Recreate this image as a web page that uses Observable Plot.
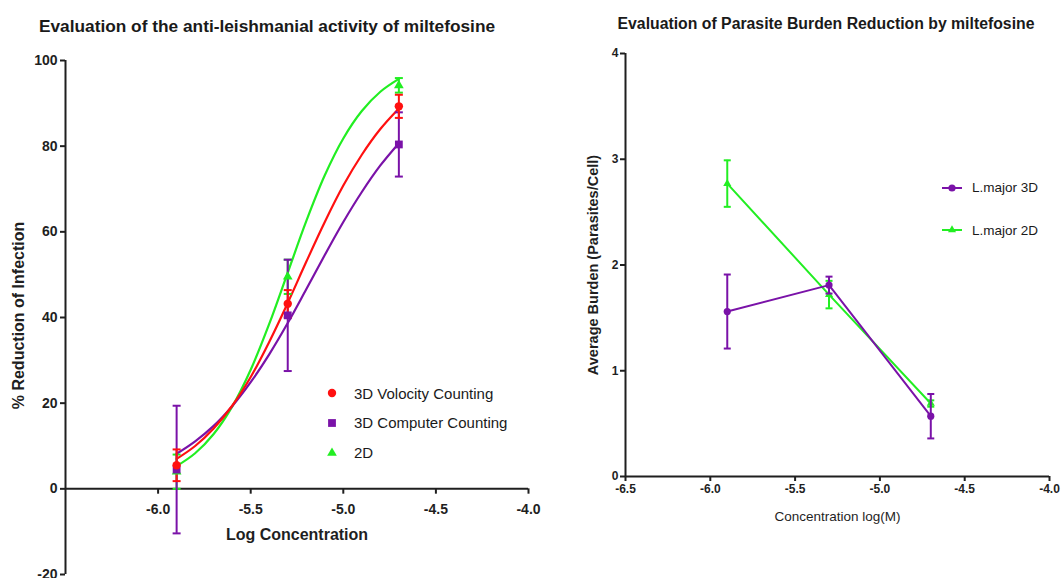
<!DOCTYPE html>
<html>
<head>
<meta charset="utf-8">
<script src="https://cdn.jsdelivr.net/npm/d3@7"></script>
<script src="https://cdn.jsdelivr.net/npm/@observablehq/plot@0.6"></script>
<style>
  html, body { margin: 0; padding: 0; background: #fff; }
  #wrap { position: relative; width: 1062px; height: 578px; overflow: hidden; font-family: "Liberation Sans", Arial, Helvetica, sans-serif; color: #1a1a1a; }
  .abs { position: absolute; }
  .title { font-weight: bold; white-space: nowrap; transform: translateX(-50%); line-height: 1.2; }
  .leg { position: absolute; white-space: nowrap; display: flex; align-items: center; }
  .leg svg { display: block; }
</style>
</head>
<body>
<div id="wrap"></div>
<script>
// ---------- data: left panel ----------
const xConc = [-5.9, -5.3, -4.7];
const leftSeries = ["3D Volocity Counting", "3D Computer Counting", "2D"];
const volocityMean = [5.5, 43.2, 89.3];
const volocitySD   = [3.7, 3.2, 2.7];
const computerMean = [4.5, 40.5, 80.4];
const computerSD   = [14.9, 13.0, 7.5];
const twoDMean     = [4.0, 49.5, 94.2];
const twoDSD       = [4.0, 4.0, 1.7];
// fitted curves
const curveX        = [-5.9, -5.8, -5.7, -5.6, -5.5, -5.4, -5.3, -5.2, -5.1, -5.0, -4.9, -4.8, -4.7];
const volocityCurve = [7.0, 10.0, 14.1, 19.4, 26.1, 34.3, 43.4, 53.0, 62.3, 70.8, 78.0, 84.0, 88.8];
const computerCurve = [8.2, 11.1, 14.7, 19.3, 24.9, 31.4, 38.7, 46.6, 54.6, 62.3, 69.3, 75.5, 80.7];
const twoDCurve     = [5.3, 8.3, 12.8, 19.2, 27.8, 38.5, 50.5, 62.5, 73.2, 81.8, 88.2, 92.7, 95.7];
const leftXTicks = [-6.0, -5.5, -5.0, -4.5, -4.0];
const leftYTicks = [-20, 0, 20, 40, 60, 80, 100];

// ---------- data: right panel ----------
const rightSeries = ["L.major 3D", "L.major 2D"];
const burden3DMean = [1.56, 1.81, 0.57];
const burden3DSD   = [0.35, 0.08, 0.21];
const burden2DMean = [2.77, 1.72, 0.69];
const burden2DSD   = [0.22, 0.13, 0.03];
const rightXTicks = [-6.5, -6.0, -5.5, -5.0, -4.5, -4.0];
const rightYTicks = [0, 1, 2, 3, 4];

// ---------- colours ----------
const RED = "#ff1010", PURPLE = "#7a12a8", GREEN = "#22ee22", AXIS = "#1f1f1f";
const FONT = "Liberation Sans, Arial, Helvetica, sans-serif";

// ---------- build tables ----------
const leftColors = [RED, PURPLE, GREEN];
const leftMeans = [volocityMean, computerMean, twoDMean];
const leftSDs = [volocitySD, computerSD, twoDSD];
const leftCurves = [volocityCurve, computerCurve, twoDCurve];
const leftSymbols = ["circle", "square", "triangle"];
const leftPts = [];
leftSeries.forEach((s, i) => xConc.forEach((x, j) => leftPts.push({
  series: s, x, y: leftMeans[i][j], lo: leftMeans[i][j] - leftSDs[i][j], hi: leftMeans[i][j] + leftSDs[i][j]
})));
const leftLines = [];
leftSeries.forEach((s, i) => curveX.forEach((x, j) => leftLines.push({series: s, x, y: leftCurves[i][j]})));

const rightColors = [PURPLE, GREEN];
const rightMeans = [burden3DMean, burden2DMean];
const rightSDs = [burden3DSD, burden2DSD];
const rightPts = [];
rightSeries.forEach((s, i) => xConc.forEach((x, j) => rightPts.push({
  series: s, x, y: rightMeans[i][j], lo: rightMeans[i][j] - rightSDs[i][j], hi: rightMeans[i][j] + rightSDs[i][j]
})));

const cap = (w) => ({draw(ctx) { ctx.moveTo(-w, 0); ctx.lineTo(w, 0); }});

// ---------- left chart ----------
const leftOrder = [2, 1, 0]; // draw green, purple, red (red on top)
const leftMarks = [];
leftMarks.push(Plot.ruleX([-6.5], {y1: -20, y2: 100, stroke: AXIS, strokeWidth: 2}));
leftMarks.push(Plot.axisY({ticks: leftYTicks, tickSize: 5, tickPadding: 3, strokeWidth: 2, stroke: AXIS,
  tickFormat: d => String(d), fontWeight: "bold", fontSize: 14, fill: AXIS, label: null}));
leftMarks.push(Plot.ruleY([0], {x1: -6.5, x2: -4.0, stroke: AXIS, strokeWidth: 2}));
leftMarks.push(Plot.ruleX(leftXTicks, {x: d => d, y1: 0, y2: -1.25, stroke: AXIS, strokeWidth: 2}));
leftMarks.push(Plot.text(leftXTicks, {x: d => d, y: 0, dy: 21, text: d => d.toFixed(1), fontWeight: "bold", fontSize: 14, fill: AXIS}));
leftMarks.push(Plot.text(["% Reduction of Infection"], {frameAnchor: "left", textAnchor: "middle", lineAnchor: "middle", rotate: -90, dx: -47, dy: -2, fontWeight: "bold", fontSize: 16, fill: AXIS}));
leftMarks.push(Plot.text(["Log Concentration"], {frameAnchor: "bottom", textAnchor: "middle", lineAnchor: "middle", dy: -40, fontWeight: "bold", fontSize: 16, fill: AXIS}));
for (const i of leftOrder) {
  const s = leftSeries[i];
  leftMarks.push(Plot.line(leftLines.filter(d => d.series === s), {x: "x", y: "y", stroke: leftColors[i], strokeWidth: 2.2, curve: "catmull-rom"}));
}
for (const i of leftOrder) {
  const s = leftSeries[i];
  const pts = leftPts.filter(d => d.series === s);
  leftMarks.push(Plot.ruleX(pts, {x: "x", y1: "lo", y2: "hi", stroke: leftColors[i], strokeWidth: 2}));
  leftMarks.push(Plot.dot(pts, {x: "x", y: "lo", symbol: cap(4), stroke: leftColors[i], strokeWidth: 2, fill: "none"}));
  leftMarks.push(Plot.dot(pts, {x: "x", y: "hi", symbol: cap(4), stroke: leftColors[i], strokeWidth: 2, fill: "none"}));
}
for (const i of leftOrder) {
  const s = leftSeries[i];
  const pts = leftPts.filter(d => d.series === s);
  leftMarks.push(Plot.dot(pts, {x: "x", y: "y", symbol: leftSymbols[i], r: i === 1 ? 4.4 : (i === 2 ? 3.6 : 4.2), fill: leftColors[i], stroke: "none"}));
}

const left = Plot.plot({
  width: 545, height: 578, marginLeft: 65, marginRight: 17, marginTop: 60, marginBottom: 4,
  x: {domain: [-6.5, -4.0], axis: null},
  y: {domain: [-20, 100], axis: null},
  style: {fontFamily: FONT, overflow: "visible", background: "transparent"},
  marks: leftMarks
});

// ---------- right chart ----------
const rightMarks = [];
rightMarks.push(Plot.ruleX([-6.5], {y1: 0, y2: 4, stroke: AXIS, strokeWidth: 2}));
rightMarks.push(Plot.ruleY([0], {x1: -6.5, x2: -4.0, stroke: AXIS, strokeWidth: 2}));
rightMarks.push(Plot.axisY({ticks: rightYTicks, tickSize: 5, tickPadding: 2, strokeWidth: 2, stroke: AXIS,
  tickFormat: d => String(d), fontWeight: "bold", fontSize: 12, fill: AXIS, label: null}));
rightMarks.push(Plot.axisX({ticks: rightXTicks, tickSize: 5, tickPadding: 3, strokeWidth: 2, stroke: AXIS,
  tickFormat: d => d.toFixed(1), fontWeight: "bold", fontSize: 12, fill: AXIS, label: null}));
rightMarks.push(Plot.text(["Average Burden (Parasites/Cell)"], {frameAnchor: "left", textAnchor: "middle", lineAnchor: "middle", rotate: -90, dx: -32, fontWeight: "bold", fontSize: 14.5, fill: AXIS}));
rightMarks.push(Plot.text(["Concentration log(M)"], {frameAnchor: "bottom", textAnchor: "middle", lineAnchor: "middle", dy: 40, fontSize: 13.5, fill: AXIS}));
const rightOrder = [1, 0];
for (const i of rightOrder) {
  const s = rightSeries[i];
  const pts = rightPts.filter(d => d.series === s);
  rightMarks.push(Plot.line(pts, {x: "x", y: "y", stroke: rightColors[i], strokeWidth: 2}));
  rightMarks.push(Plot.ruleX(pts, {x: "x", y1: "lo", y2: "hi", stroke: rightColors[i], strokeWidth: 2}));
  rightMarks.push(Plot.dot(pts, {x: "x", y: "lo", symbol: cap(3.5), stroke: rightColors[i], strokeWidth: 2, fill: "none"}));
  rightMarks.push(Plot.dot(pts, {x: "x", y: "hi", symbol: cap(3.5), stroke: rightColors[i], strokeWidth: 2, fill: "none"}));
  rightMarks.push(Plot.dot(pts, {x: "x", y: "y", symbol: i === 0 ? "circle" : "triangle", r: i === 0 ? 3.6 : 3.0, fill: rightColors[i], stroke: "none"}));
}
const right = Plot.plot({
  width: 502, height: 578, marginLeft: 65, marginRight: 13, marginTop: 53, marginBottom: 102,
  x: {domain: [-6.5, -4.0], axis: null},
  y: {domain: [0, 4], axis: null},
  style: {fontFamily: FONT, overflow: "visible", background: "transparent"},
  marks: rightMarks
});

// ---------- layout ----------
const wrap = document.getElementById("wrap");
left.style.position = "absolute"; left.style.left = "0px"; left.style.top = "0px";
right.style.position = "absolute"; right.style.left = "560px"; right.style.top = "0px";
wrap.appendChild(left);
wrap.appendChild(right);

function addTitle(text, cx, top, size) {
  const d = document.createElement("div");
  d.className = "abs title";
  d.textContent = text;
  d.style.left = cx + "px"; d.style.top = top + "px"; d.style.fontSize = size + "px";
  wrap.appendChild(d);
}
addTitle("Evaluation of the anti-leishmanial activity of miltefosine", 267, 16, 17.3);
addTitle("Evaluation of Parasite Burden Reduction by miltefosine", 826, 15, 15.8);

function symSvg(kind, color, withLine) {
  const ns = "http://www.w3.org/2000/svg";
  const svg = document.createElementNS(ns, "svg");
  svg.setAttribute("width", withLine ? 20 : 12); svg.setAttribute("height", 12);
  const c = withLine ? 10 : 6;
  if (withLine) {
    const l = document.createElementNS(ns, "line");
    l.setAttribute("x1", 0); l.setAttribute("x2", 20); l.setAttribute("y1", 6); l.setAttribute("y2", 6);
    l.setAttribute("stroke", color); l.setAttribute("stroke-width", 2);
    svg.appendChild(l);
  }
  const sizes = {circle: withLine ? 3.6 : 4.2, square: 4.4, triangle: withLine ? 3.0 : 3.6};
  const symMap = {circle: d3.symbolCircle, square: d3.symbolSquare, triangle: d3.symbolTriangle};
  const r = sizes[kind];
  const p = document.createElementNS(ns, "path");
  p.setAttribute("d", d3.symbol(symMap[kind], Math.PI * r * r)());
  p.setAttribute("transform", `translate(${c},6)`);
  p.setAttribute("fill", color);
  svg.appendChild(p);
  return svg;
}
function addLegend(label, kind, color, left, cy, size, withLine, gap) {
  const d = document.createElement("div");
  d.className = "leg";
  d.style.left = left + "px"; d.style.top = (cy - 8) + "px"; d.style.height = "16px";
  d.style.fontSize = size + "px";
  d.appendChild(symSvg(kind, color, withLine));
  const t = document.createElement("span");
  t.textContent = label; t.style.marginLeft = gap + "px";
  d.appendChild(t);
  wrap.appendChild(d);
}
leftSeries.forEach((s, i) => addLegend(s, leftSymbols[i], leftColors[i], 326, [393, 422.5, 452.5][i], 15, false, 16));
rightSeries.forEach((s, i) => addLegend(s, i === 0 ? "circle" : "triangle", rightColors[i], 942, [187.5, 230][i], 13.5, true, 10));
</script>
</body>
</html>
